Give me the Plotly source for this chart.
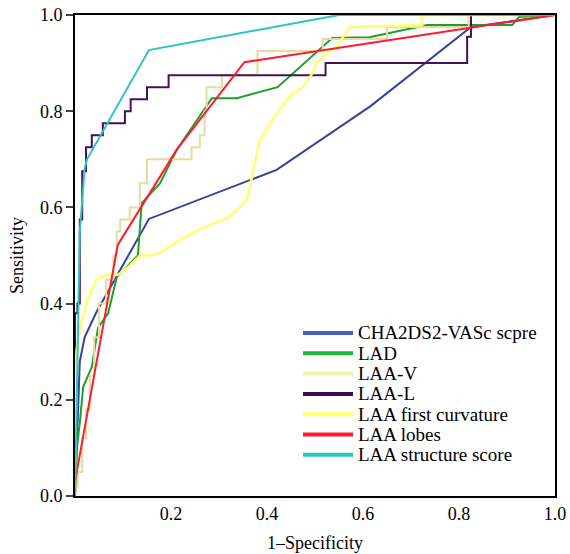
import plotly.graph_objects as go

# ---- data ----
cha_x = [0, 0.005, 0.01, 0.02, 0.045, 0.154, 0.42, 0.615, 0.825, 1.0]
cha_y = [0, 0.15, 0.28, 0.33, 0.383, 0.576, 0.678, 0.81, 0.975, 1.0]

lad_x = [0, 0.004, 0.010, 0.017, 0.035, 0.048, 0.069, 0.087, 0.131, 0.139, 0.177, 0.212, 0.285, 0.337, 0.422, 0.536, 0.613, 0.734, 0.911, 0.925, 1.0]
lad_y = [0, 0.10, 0.152, 0.227, 0.268, 0.35, 0.38, 0.455, 0.50, 0.609, 0.65, 0.72, 0.827, 0.827, 0.85, 0.952, 0.954, 0.979, 0.979, 0.996, 1.0]

# step curves: each point = (fpr where the curve rises, new sensitivity)
laav_x = [0, 0, 0.006, 0.015, 0.023, 0.031, 0.04, 0.05, 0.065, 0.08, 0.087, 0.094, 0.114, 0.135, 0.15, 0.243, 0.26, 0.27, 0.274, 0.306, 0.38, 0.516, 0.65, 0.82, 1.0]
laav_y = [0, 0.02, 0.05, 0.12, 0.18, 0.25, 0.33, 0.40, 0.45, 0.50, 0.55, 0.575, 0.60, 0.65, 0.70, 0.725, 0.75, 0.80, 0.85, 0.875, 0.925, 0.95, 0.975, 1.0, 1.0]

laal_x = [0, 0, 0.005, 0.010, 0.015, 0.023, 0.035, 0.058, 0.104, 0.116, 0.150, 0.195, 0.522, 0.817, 0.825, 1.0]
laal_y = [0, 0.38, 0.40, 0.575, 0.675, 0.725, 0.75, 0.775, 0.80, 0.825, 0.85, 0.875, 0.90, 0.955, 1.0, 1.0]

curv_x = [0, 0.003, 0.01, 0.027, 0.045, 0.065, 0.09, 0.115, 0.135, 0.16, 0.185, 0.218, 0.26, 0.322, 0.358, 0.378, 0.385, 0.42, 0.447, 0.474, 0.495, 0.503, 0.524, 0.545, 0.565, 0.572, 0.723, 0.723, 1.0]
curv_y = [0, 0.30, 0.35, 0.41, 0.45, 0.46, 0.46, 0.48, 0.50, 0.50, 0.51, 0.532, 0.555, 0.58, 0.615, 0.705, 0.74, 0.796, 0.83, 0.85, 0.879, 0.90, 0.92, 0.933, 0.963, 0.975, 0.979, 1.0, 1.0]

lobes_x = [0, 0.089, 0.212, 0.353, 1.0]
lobes_y = [0.03, 0.522, 0.72, 0.902, 1.0]

struct_x = [0, 0.005, 0.01, 0.02, 0.025, 0.154, 0.55, 1.0]
struct_y = [0, 0.30, 0.55, 0.68, 0.70, 0.927, 1.0, 1.0]

x_ticks = [0.2, 0.4, 0.6, 0.8, 1.0]
x_ticklabels = ["0.2", "0.4", "0.6", "0.8", "1.0"]
y_ticks = [0.0, 0.2, 0.4, 0.6, 0.8, 1.0]
y_ticklabels = ["0.0", "0.2", "0.4", "0.6", "0.8", "1.0"]

series_names = ["CHA2DS2-VASc scpre", "LAD", "LAA-V", "LAA-L",
                "LAA first curvature", "LAA lobes", "LAA structure score"]
series_x = [cha_x, lad_x, laav_x, laal_x, curv_x, lobes_x, struct_x]
series_y = [cha_y, lad_y, laav_y, laal_y, curv_y, lobes_y, struct_y]
series_colors = ["#34449a", "#1f9e2e", "#e6dca0", "#4a0f5c", "#ffff70", "#ff1a2e", "#2ec4c4"]
legend_colors = ["#4a5cc4", "#22b83a", "#f4f0b0", "#3e0a50", "#ffff70", "#ff1a2e", "#2ec4c4"]
series_widths = [2, 2, 2, 2, 2.5, 2, 2]
series_shapes = ["linear", "linear", "hv", "hv", "linear", "linear", "linear"]

serif = "Liberation Serif, Times New Roman, serif"

fig = go.Figure()
for name, xs, ys, col, wd, shp in zip(series_names, series_x, series_y, series_colors,
                                      series_widths, series_shapes):
    fig.add_trace(go.Scatter(
        x=xs, y=ys, mode="lines", name=name, showlegend=False,
        line=dict(color=col, width=wd, shape=shp),
    ))

# manual legend (paper coordinates)
L, R, T, B = 75, 15, 15, 58
W, H = 570, 554
pw, ph = W - L - R, H - T - B
def px_x(p):
    return (p - L) / pw
def px_y(p):
    return (H - B - p) / ph

shapes = []
annotations = []
for i, (name, col) in enumerate(zip(series_names, legend_colors)):
    yc = 333 + i * 20.3
    shapes.append(dict(type="line", xref="paper", yref="paper",
                       x0=px_x(303), x1=px_x(353), y0=px_y(yc), y1=px_y(yc),
                       line=dict(color=col, width=4)))
    annotations.append(dict(xref="paper", yref="paper", x=px_x(356), y=px_y(yc),
                            text=name, showarrow=False, xanchor="left", yanchor="middle",
                            font=dict(family=serif, size=19, color="black")))

fig.update_layout(
    width=W, height=H,
    margin=dict(l=L, r=R, t=T, b=B, autoexpand=False),
    plot_bgcolor="white", paper_bgcolor="white",
    font=dict(family=serif, size=18, color="black"),
    showlegend=False,
    shapes=shapes,
    annotations=annotations,
    xaxis=dict(
        range=[0, 1], tickvals=x_ticks, ticktext=x_ticklabels,
        showgrid=False, zeroline=False, ticks="", automargin=False,
        showline=True, linecolor="black", linewidth=2, mirror=True,
        tickfont=dict(family=serif, size=18),
        title=dict(text="1–Specificity", font=dict(family=serif, size=18), standoff=14),
    ),
    yaxis=dict(
        range=[0, 1], tickvals=y_ticks, ticktext=y_ticklabels, automargin=False,
        showgrid=False, zeroline=False, ticks="outside", ticklen=7, tickwidth=2,
        showline=True, linecolor="black", linewidth=2, mirror=True,
        tickfont=dict(family=serif, size=18),
        title=dict(text="Sensitivity", font=dict(family=serif, size=18), standoff=12),
    ),
)

fig.write_html("out.html", config={"displayModeBar": False},
               post_script="document.body.style.margin='0';")
